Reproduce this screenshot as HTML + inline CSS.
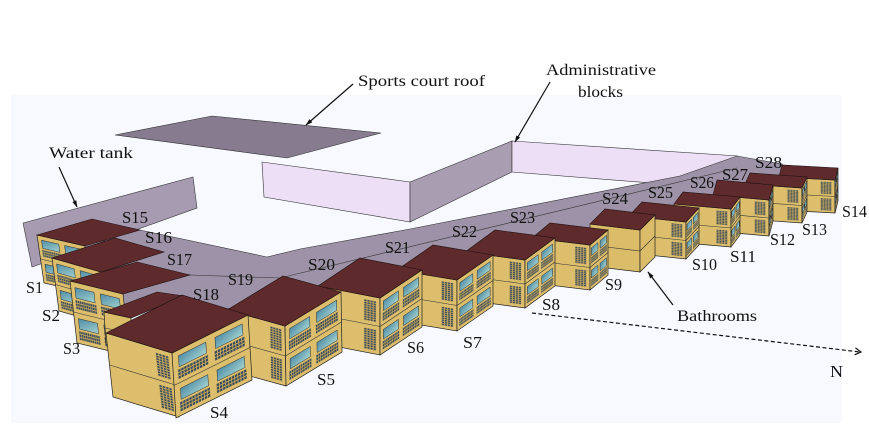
<!DOCTYPE html>
<html><head><meta charset="utf-8"><style>html,body{margin:0;padding:0;background:#fff}svg{display:block}text{font-family:"Liberation Serif","DejaVu Serif",serif;fill:#111}.rf{fill:#5f2a2b;stroke:#1e1212;stroke-width:.6}</style></head><body>
<svg width="869" height="438" viewBox="0 0 869 438" xmlns="http://www.w3.org/2000/svg">
<defs>
<pattern id="gw" width=".1" height=".34" patternContentUnits="objectBoundingBox"><rect width=".1" height=".34" fill="#c4a65c" stroke="none"/><rect x=".015" y=".05" width=".07" height=".24" fill="#34495d" stroke="none"/></pattern>
<pattern id="gv" width=".25" height=".11" patternContentUnits="objectBoundingBox"><rect width=".25" height=".11" fill="#c4a65c" stroke="none"/><rect x=".04" y=".02" width=".17" height=".07" fill="#34495d" stroke="none"/></pattern>
<linearGradient id="wg" x1="0" y1="0" x2="1" y2="1"><stop offset="0" stop-color="#4f8ca6"/><stop offset="1" stop-color="#a3d2d0"/></linearGradient>
<g id="se">
<rect width="1" height="1" fill="#dcbe6c" stroke="none"/>
<rect x=".08" y=".09" width=".36" height=".17" fill="url(#wg)" stroke="#2b2b2b" stroke-width=".5" vector-effect="non-scaling-stroke"/>
<rect x=".56" y=".09" width=".36" height=".17" fill="url(#wg)" stroke="#2b2b2b" stroke-width=".5" vector-effect="non-scaling-stroke"/>
<rect x=".06" y=".29" width=".40" height=".15" fill="url(#gw)" stroke="none"/>
<rect x=".54" y=".29" width=".40" height=".15" fill="url(#gw)" stroke="none"/>
<rect x=".08" y=".59" width=".36" height=".17" fill="url(#wg)" stroke="#2b2b2b" stroke-width=".5" vector-effect="non-scaling-stroke"/>
<rect x=".56" y=".59" width=".36" height=".17" fill="url(#wg)" stroke="#2b2b2b" stroke-width=".5" vector-effect="non-scaling-stroke"/>
<rect x=".06" y=".79" width=".40" height=".15" fill="url(#gw)" stroke="none"/>
<rect x=".54" y=".79" width=".40" height=".15" fill="url(#gw)" stroke="none"/>
<line x1="0" y1=".5" x2="1" y2=".5" stroke="#333" stroke-width=".6" vector-effect="non-scaling-stroke"/>
<rect width="1" height="1" fill="none" stroke="#222" stroke-width=".7" vector-effect="non-scaling-stroke"/>
</g>
<g id="sw">
<rect width="1" height="1" fill="#dcbe6c" stroke="none"/>
<rect x=".74" y=".07" width=".2" height=".37" fill="url(#gv)" stroke="none"/>
<rect x=".74" y=".57" width=".2" height=".37" fill="url(#gv)" stroke="none"/>
<line x1="0" y1=".5" x2="1" y2=".5" stroke="#333" stroke-width=".6" vector-effect="non-scaling-stroke"/>
<rect width="1" height="1" fill="none" stroke="#222" stroke-width=".7" vector-effect="non-scaling-stroke"/>
</g>
<g id="pl">
<rect width="1" height="1" fill="#dabc69" stroke="none"/>
<line x1="0" y1=".5" x2="1" y2=".5" stroke="#333" stroke-width=".6" vector-effect="non-scaling-stroke"/>
<rect width="1" height="1" fill="none" stroke="#222" stroke-width=".7" vector-effect="non-scaling-stroke"/>
</g>
<marker id="ah" viewBox="0 0 10 10" refX="9" refY="5" markerWidth="6" markerHeight="6" orient="auto"><path d="M0,2 L10,5 L0,8 z" fill="#111" stroke="none"/></marker>
</defs>

<rect width="869" height="438" fill="#fff"/>
<rect x="11" y="95" width="831" height="328" fill="#f7f9fe"/>

<polygon points="115,135 212,116 381,133 287,158" fill="#867b8f" stroke="#333" stroke-width=".6"/>

<polygon points="262,162 410,182 410,222 264,197" fill="#ecdff6" stroke="#333" stroke-width=".6"/>
<polygon points="410,182 512,141 512,172 410,222" fill="#a99db2" stroke="#333" stroke-width=".6"/>
<polygon points="512,141 738,156 740,190 512,172" fill="#ecdff6" stroke="#333" stroke-width=".6"/>

<polygon points="23,223 193,177 197,208 32,267" fill="#a69bb0" stroke="#333" stroke-width=".6"/>

<polygon points="100,222 140,230 267,257 300,249 410,229 680,176 737,156 782,164 800,190 560,240 300,300 200,312 120,305" fill="#9d92a7" stroke="#333" stroke-width=".6"/>
<polyline points="150,273 190,275 280,278 737,168" fill="none" stroke="#333" stroke-width=".6"/>

<g>
<use href="#sw" transform="matrix(56,3,0,33,779,177)"/>
<use href="#se" transform="matrix(3,-12,0,33,835,180)"/>
<polygon class="rf" points="779,177 835,180 838,168 782,165"/>
<use href="#sw" transform="matrix(57,4,0,35,745,184)"/>
<use href="#se" transform="matrix(5,-11,0,35,802,188)"/>
<polygon class="rf" points="745,184 802,188 807,177 750,173"/>
<use href="#sw" transform="matrix(56,5,0,36,713,195)"/>
<use href="#se" transform="matrix(4,-15,0,36,769,200)"/>
<polygon class="rf" points="713,195 769,200 773,185 717,180"/>
<use href="#sw" transform="matrix(57,5,0,38,674,204)"/>
<use href="#se" transform="matrix(9,-12,0,38,731,209)"/>
<polygon class="rf" points="674,204 731,209 740,197 683,192"/>
<use href="#sw" transform="matrix(57,6,0,37,629,216)"/>
<use href="#se" transform="matrix(13,-14,0,37,686,222)"/>
<polygon class="rf" points="629,216 686,222 699,208 642,202"/>
<use href="#pl" transform="matrix(50,6,0,42,590,224)"/>
<use href="#pl" transform="matrix(15,-15,0,42,640,230)"/>
<polygon class="rf" points="590,224 640,230 655,215 605,209"/>
<use href="#sw" transform="matrix(58,7,0,45,532,238)"/>
<use href="#se" transform="matrix(18,-15,0,45,590,245)"/>
<polygon class="rf" points="532,238 590,245 608,230 550,223"/>
<use href="#sw" transform="matrix(60,8,0,48,465,252)"/>
<use href="#se" transform="matrix(30,-22,0,48,525,260)"/>
<polygon class="rf" points="465,252 525,260 555,238 495,230"/>
<use href="#sw" transform="matrix(60,10,0,51,397,270)"/>
<use href="#se" transform="matrix(36,-25,0,51,457,280)"/>
<polygon class="rf" points="397,270 457,280 493,255 433,245"/>
<use href="#sw" transform="matrix(62,12,0,57,318,286)"/>
<use href="#se" transform="matrix(42,-28,0,57,380,298)"/>
<polygon class="rf" points="318,286 380,298 422,270 360,258"/>
<use href="#sw" transform="matrix(58,16,1,60,227,310)"/>
<use href="#se" transform="matrix(56,-34,1,60,285,326)"/>
<polygon class="rf" points="227,310 285,326 341,292 283,276"/>

<use href="#se" transform="matrix(48,11,7,48,37,235)"/>
<polygon class="rf" points="37,235 92,219 140,230 85,246"/>
<use href="#se" transform="matrix(49,14,7,53,52,258)"/>
<polygon class="rf" points="52,258 115,238 164,252 101,272"/>
<use href="#se" transform="matrix(53,13,7,62,70,281)"/>
<polygon class="rf" points="70,281 137,262 190,275 123,294"/>

<use href="#pl" transform="matrix(27,6,2,32,104,312)"/>
<polygon class="rf" points="104,312 157,292 184,296 131,318"/>

<use href="#sw" transform="matrix(66,20,7,64,106,333)"/>
<use href="#se" transform="matrix(76,-38,4,65,172,353)"/>
<polygon class="rf" points="106,333 172,353 248,315 182,295"/>
</g>

<g stroke="#111" stroke-width="1.2" fill="none">
<line x1="59" y1="167" x2="77" y2="207" marker-end="url(#ah)"/>
<line x1="353" y1="84" x2="306" y2="125" marker-end="url(#ah)"/>
<line x1="550" y1="82" x2="515" y2="142" marker-end="url(#ah)"/>
<line x1="673" y1="305" x2="648" y2="272" marker-end="url(#ah)"/>
<line x1="532" y1="313" x2="860" y2="352" stroke-dasharray="4 2.5"/>
<polyline points="855.4,347.8 861,352 854.6,354.8"/>
</g>

<g font-family="'Liberation Serif','DejaVu Serif',serif">
<text x="358" y="86" font-size="16" textLength="127" lengthAdjust="spacingAndGlyphs">Sports court roof</text>
<text x="546" y="75" font-size="16" textLength="110" lengthAdjust="spacingAndGlyphs">Administrative</text>
<text x="578" y="97" font-size="16" textLength="45" lengthAdjust="spacingAndGlyphs">blocks</text>
<text x="49" y="158" font-size="16" textLength="84" lengthAdjust="spacingAndGlyphs">Water tank</text>
<text x="677" y="321" font-size="16" textLength="80" lengthAdjust="spacingAndGlyphs">Bathrooms</text>
<text x="830" y="377" font-size="17" textLength="13" lengthAdjust="spacingAndGlyphs">N</text>
</g>

<g font-size="17" font-family="'Liberation Serif','DejaVu Serif',serif">
<text x="26" y="293" textLength="17" lengthAdjust="spacingAndGlyphs">S1</text>
<text x="42" y="321" textLength="18" lengthAdjust="spacingAndGlyphs">S2</text>
<text x="63" y="354" textLength="17" lengthAdjust="spacingAndGlyphs">S3</text>
<text x="210" y="418" textLength="18" lengthAdjust="spacingAndGlyphs">S4</text>
<text x="317" y="385" textLength="18" lengthAdjust="spacingAndGlyphs">S5</text>
<text x="407" y="353" textLength="17" lengthAdjust="spacingAndGlyphs">S6</text>
<text x="463" y="348" textLength="19" lengthAdjust="spacingAndGlyphs">S7</text>
<text x="542" y="310" textLength="18" lengthAdjust="spacingAndGlyphs">S8</text>
<text x="605" y="290" textLength="17" lengthAdjust="spacingAndGlyphs">S9</text>
<text x="692" y="270" textLength="25" lengthAdjust="spacingAndGlyphs">S10</text>
<text x="730" y="262" textLength="26" lengthAdjust="spacingAndGlyphs">S11</text>
<text x="770" y="245" textLength="25" lengthAdjust="spacingAndGlyphs">S12</text>
<text x="802" y="235" textLength="25" lengthAdjust="spacingAndGlyphs">S13</text>
<text x="842" y="217" textLength="25" lengthAdjust="spacingAndGlyphs">S14</text>
<text x="122" y="223" textLength="26" lengthAdjust="spacingAndGlyphs">S15</text>
<text x="145" y="243" textLength="27" lengthAdjust="spacingAndGlyphs">S16</text>
<text x="167" y="265" textLength="25" lengthAdjust="spacingAndGlyphs">S17</text>
<text x="193" y="300" textLength="26" lengthAdjust="spacingAndGlyphs">S18</text>
<text x="228" y="285" textLength="25" lengthAdjust="spacingAndGlyphs">S19</text>
<text x="308" y="270" textLength="27" lengthAdjust="spacingAndGlyphs">S20</text>
<text x="385" y="253" textLength="25" lengthAdjust="spacingAndGlyphs">S21</text>
<text x="452" y="237" textLength="25" lengthAdjust="spacingAndGlyphs">S22</text>
<text x="510" y="223" textLength="25" lengthAdjust="spacingAndGlyphs">S23</text>
<text x="602" y="204" textLength="26" lengthAdjust="spacingAndGlyphs">S24</text>
<text x="648" y="198" textLength="25" lengthAdjust="spacingAndGlyphs">S25</text>
<text x="690" y="188" textLength="24" lengthAdjust="spacingAndGlyphs">S26</text>
<text x="722" y="180" textLength="26" lengthAdjust="spacingAndGlyphs">S27</text>
<text x="755" y="168" textLength="27" lengthAdjust="spacingAndGlyphs">S28</text>
</g>
</svg>
</body></html>
